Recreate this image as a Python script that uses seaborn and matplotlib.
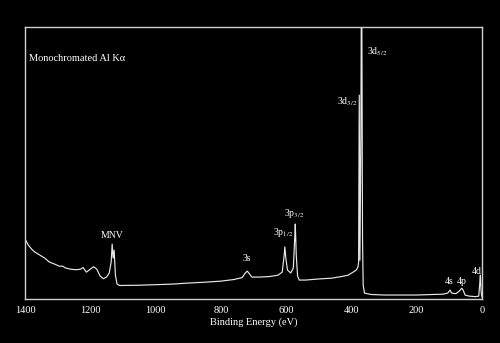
import matplotlib
matplotlib.use("Agg")
import matplotlib.pyplot as plt
import seaborn as sns
import pandas as pd

# Binding energy (eV) and intensity (arb. units)
energy = [1400, 1390, 1380, 1370, 1355, 1340, 1325, 1310, 1295, 1285, 1275, 1260, 1245, 1230,
          1222, 1212, 1200, 1190, 1180, 1170, 1160, 1150, 1142, 1136, 1133, 1130, 1127, 1123,
          1118, 1110, 1050, 1000, 950, 900, 850, 800, 760, 735, 725, 719, 712, 705, 680, 650,
          625, 612, 606, 604, 601, 596, 586, 578, 574, 572, 569, 565, 560, 540, 500, 460, 430,
          410, 395, 385, 380, 378, 376, 374, 371, 369, 366, 364, 360, 340, 300, 250, 200, 150,
          120, 105, 98, 93, 80, 70, 62, 57, 52, 40, 20, 10, 7, 5, 3, 1, 0]
intensity = [22.1, 19.9, 18.4, 17.3, 16.2, 15.1, 13.6, 12.9, 12.1, 12.1, 11.4, 11.0, 10.8, 11.0,
             11.6, 9.9, 11.0, 11.9, 11.0, 8.5, 7.5, 8.1, 9.6, 13.6, 20.2, 15.1, 18.0, 8.8,
             5.5, 5.0, 5.1, 5.3, 5.5, 5.9, 6.2, 6.6, 7.2, 7.9, 9.6, 10.3, 9.2, 8.1, 8.1, 8.3,
             8.8, 9.9, 16.2, 19.2, 15.1, 10.7, 9.6, 11.4, 21.7, 27.6, 16.2, 8.5, 7.0, 7.0, 7.4, 7.7, 8.3,
             8.8, 9.9, 10.7, 11.8, 13.6, 75.0, 14.3, 60.0, 140.0, 21.7, 5.1, 2.2, 1.7, 1.5, 1.5, 1.5, 1.7,
             1.8, 2.2, 3.3, 2.2, 2.0, 2.9, 4.0, 3.1, 1.5, 1.1, 0.9, 1.1, 5.5, 8.8, 3.3, 1.1, 0.7]

peak_labels = ["MNV", "3s", r"3p$_{1/2}$", r"3p$_{3/2}$", r"3d$_{3/2}$", r"3d$_{5/2}$", "4s", "4p", "4d"]
x_ticks = [1400, 1200, 1000, 800, 600, 400, 200, 0]

df = pd.DataFrame({"energy": energy, "intensity": intensity})

sns.set_style("dark")
plt.rcParams["font.family"] = ["Liberation Serif", "DejaVu Serif"]
plt.rcParams["mathtext.fontset"] = "stix"

fig = plt.figure(figsize=(5.0, 3.43), dpi=100, facecolor="black")
ax = fig.add_axes([0.05, 0.128, 0.914, 0.793])
ax.set_facecolor("black")

sns.lineplot(data=df, x="energy", y="intensity", ax=ax, sort=False, estimator=None,
             color="#e8e8e8", linewidth=0.85)

ax.set_xlim(1400, 0)
ax.set_ylim(0, 100)
ax.set_xticks(x_ticks)
ax.set_xticklabels([str(t) for t in x_ticks])
ax.set_yticks([])
ax.set_ylabel("")
ax.set_xlabel("Binding Energy (eV)", color="white", fontsize=7.5, labelpad=2)
ax.tick_params(axis="x", direction="in", length=3, width=0.8, colors="#dddddd",
               labelcolor="white", labelsize=7.5, pad=5)
ax.grid(False)
for s in ax.spines.values():
    s.set_visible(True)
    s.set_color("#d0d0d0")
    s.set_linewidth(1.0)

ax.text(1388, 88.5, "Monochromated Al K\u03b1", color="white", fontsize=7.5,
        ha="left", va="center")

# peak annotations: (label, x, y, ha)
pos = [(1133, 23.5, "center"), (719, 15.0, "center"), (608, 24.5, "center"),
       (574, 31.5, "center"), (381, 72.5, "right"), (352, 91.0, "left"),
       (101, 6.5, "center"), (62, 6.5, "center"), (15, 10.3, "center")]
for lab, (x, y, ha) in zip(peak_labels, pos):
    ax.text(x, y, lab, color="white", fontsize=7, ha=ha, va="center")

fig.savefig("out.png", dpi=100, facecolor="black")
